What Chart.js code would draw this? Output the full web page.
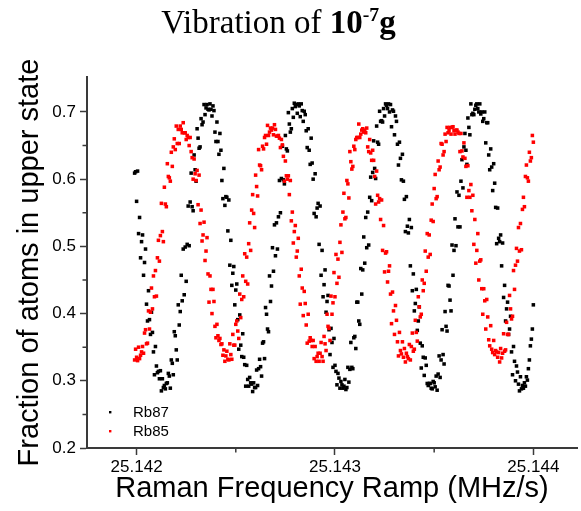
<!DOCTYPE html>
<html>
<head>
<meta charset="utf-8">
<script src="https://cdn.jsdelivr.net/npm/chart.js@4/dist/chart.umd.min.js"></script>
<style>
html,body{margin:0;padding:0;background:#fff;}
#wrap{position:relative;width:581px;height:511px;overflow:hidden;}
#title{position:absolute;left:0;top:3px;width:557px;text-align:center;font-family:"Liberation Serif","Times New Roman",serif;font-size:33px;line-height:38px;color:#000;white-space:nowrap;}
#title sup{font-size:0.6em;line-height:0;vertical-align:0.62em;}
canvas{position:absolute;left:0;top:0;}
</style>
</head>
<body>
<div id="wrap">
<canvas id="c" width="581" height="511"></canvas>
<div id="title">Vibration of <b>10<sup>-7</sup>g</b></div>
</div>
<script>
// Raman frequency ramp (MHz/s), shared by both species
const freq = [
25.141990,25.141995,25.142000,25.142005,25.142010,25.142015,25.142020,25.142025,25.142030,25.142035,25.142040,25.142045,25.142050,25.142055,25.142060,25.142065,25.142070,25.142075,25.142080,25.142085,
25.142090,25.142095,25.142100,25.142105,25.142110,25.142115,25.142120,25.142125,25.142130,25.142135,25.142140,25.142145,25.142150,25.142155,25.142160,25.142165,25.142170,25.142175,25.142180,25.142185,
25.142190,25.142195,25.142200,25.142205,25.142210,25.142215,25.142220,25.142225,25.142230,25.142235,25.142240,25.142245,25.142250,25.142255,25.142260,25.142265,25.142270,25.142275,25.142280,25.142285,
25.142290,25.142295,25.142300,25.142305,25.142310,25.142315,25.142320,25.142325,25.142330,25.142335,25.142340,25.142345,25.142350,25.142355,25.142360,25.142365,25.142370,25.142375,25.142380,25.142385,
25.142390,25.142395,25.142400,25.142405,25.142410,25.142415,25.142420,25.142425,25.142430,25.142435,25.142440,25.142445,25.142450,25.142455,25.142460,25.142465,25.142470,25.142475,25.142480,25.142485,
25.142490,25.142495,25.142500,25.142505,25.142510,25.142515,25.142520,25.142525,25.142530,25.142535,25.142540,25.142545,25.142550,25.142555,25.142560,25.142565,25.142570,25.142575,25.142580,25.142585,
25.142590,25.142595,25.142600,25.142605,25.142610,25.142615,25.142620,25.142625,25.142630,25.142635,25.142640,25.142645,25.142650,25.142655,25.142660,25.142665,25.142670,25.142675,25.142680,25.142685,
25.142690,25.142695,25.142700,25.142705,25.142710,25.142715,25.142720,25.142725,25.142730,25.142735,25.142740,25.142745,25.142750,25.142755,25.142760,25.142765,25.142770,25.142775,25.142780,25.142785,
25.142790,25.142795,25.142800,25.142805,25.142810,25.142815,25.142820,25.142825,25.142830,25.142835,25.142840,25.142845,25.142850,25.142855,25.142860,25.142865,25.142870,25.142875,25.142880,25.142885,
25.142890,25.142895,25.142900,25.142905,25.142910,25.142915,25.142920,25.142925,25.142930,25.142935,25.142940,25.142945,25.142950,25.142955,25.142960,25.142965,25.142970,25.142975,25.142980,25.142985,
25.142990,25.142995,25.143000,25.143005,25.143010,25.143015,25.143020,25.143025,25.143030,25.143035,25.143040,25.143045,25.143050,25.143055,25.143060,25.143065,25.143070,25.143075,25.143080,25.143085,
25.143090,25.143095,25.143100,25.143105,25.143110,25.143115,25.143120,25.143125,25.143130,25.143135,25.143140,25.143145,25.143150,25.143155,25.143160,25.143165,25.143170,25.143175,25.143180,25.143185,
25.143190,25.143195,25.143200,25.143205,25.143210,25.143215,25.143220,25.143225,25.143230,25.143235,25.143240,25.143245,25.143250,25.143255,25.143260,25.143265,25.143270,25.143275,25.143280,25.143285,
25.143290,25.143295,25.143300,25.143305,25.143310,25.143315,25.143320,25.143325,25.143330,25.143335,25.143340,25.143345,25.143350,25.143355,25.143360,25.143365,25.143370,25.143375,25.143380,25.143385,
25.143390,25.143395,25.143400,25.143405,25.143410,25.143415,25.143420,25.143425,25.143430,25.143435,25.143440,25.143445,25.143450,25.143455,25.143460,25.143465,25.143470,25.143475,25.143480,25.143485,
25.143490,25.143495,25.143500,25.143505,25.143510,25.143515,25.143520,25.143525,25.143530,25.143535,25.143540,25.143545,25.143550,25.143555,25.143560,25.143565,25.143570,25.143575,25.143580,25.143585,
25.143590,25.143595,25.143600,25.143605,25.143610,25.143615,25.143620,25.143625,25.143630,25.143635,25.143640,25.143645,25.143650,25.143655,25.143660,25.143665,25.143670,25.143675,25.143680,25.143685,
25.143690,25.143695,25.143700,25.143705,25.143710,25.143715,25.143720,25.143725,25.143730,25.143735,25.143740,25.143745,25.143750,25.143755,25.143760,25.143765,25.143770,25.143775,25.143780,25.143785,
25.143790,25.143795,25.143800,25.143805,25.143810,25.143815,25.143820,25.143825,25.143830,25.143835,25.143840,25.143845,25.143850,25.143855,25.143860,25.143865,25.143870,25.143875,25.143880,25.143885,
25.143890,25.143895,25.143900,25.143905,25.143910,25.143915,25.143920,25.143925,25.143930,25.143935,25.143940,25.143945,25.143950,25.143955,25.143960,25.143965,25.143970,25.143975,25.143980,25.143985,
25.143990,25.143995,25.144000
];

// Fraction of atoms in upper state, Rb87 (black)
const rb87 = [
0.609,0.611,0.567,0.612,0.519,0.543,0.483,0.507,0.517,0.457,0.476,0.496,0.414,0.389,0.434,0.391,0.369,0.402,0.372,0.343,
0.309,0.351,0.322,0.312,0.314,0.303,0.315,0.285,0.303,0.290,0.293,
0.288,0.296,0.297,0.311,0.307,0.289,0.331,0.326,0.309,0.373,0.367,0.346,0.331,0.413,0.383,0.403,0.457,0.419,0.496,0.428,
0.499,0.448,0.503,0.560,0.501,0.566,0.609,0.559,0.553,0.636,0.614,0.597,0.675,0.661,0.646,0.648,0.690,0.681,0.685,0.711,
0.696,0.706,0.711,0.704,
0.703,0.712,0.704,0.694,0.709,0.702,0.670,0.656,0.685,0.656,0.637,0.668,0.643,0.598,0.571,0.616,0.561,0.574,0.573,0.523,
0.569,0.472,0.509,0.442,0.460,0.470,0.413,0.435,0.444,0.391,0.347,0.398,0.353,0.336,0.370,0.335,0.324,0.292,0.323,0.302,
0.292,0.305,0.297,0.295,0.284,
0.297,0.290,0.290,0.316,0.293,0.318,0.332,0.321,0.307,0.356,0.358,0.333,0.409,0.399,0.377,0.373,0.456,0.418,0.441,0.498,
0.463,0.532,0.486,0.535,0.496,0.544,0.598,0.550,0.601,0.649,0.599,0.593,0.665,0.645,0.642,0.699,0.682,0.670,0.675,0.705,
0.692,0.713,0.708,0.711,0.698,
0.712,0.709,0.693,0.712,0.702,0.686,0.701,0.696,0.672,0.647,0.675,0.643,0.622,0.661,0.624,0.600,0.549,0.608,0.544,0.557,
0.564,0.503,0.560,0.457,0.494,0.425,0.443,0.465,0.402,0.418,0.427,0.376,0.339,0.378,0.357,0.320,0.363,0.323,0.314,0.294,
0.311,0.304,0.289,0.299,0.294,0.289,
0.292,0.302,0.287,0.290,0.320,0.298,0.317,0.357,0.320,0.318,0.364,0.366,0.348,0.417,0.417,0.389,0.384,0.467,0.429,0.465,
0.514,0.475,0.543,0.498,0.551,0.502,0.573,0.603,0.568,0.610,0.657,0.616,0.601,0.679,0.655,0.652,0.701,0.686,0.687,0.685,
0.705,0.694,0.712,0.710,
0.705,0.712,0.700,0.711,0.678,0.703,0.701,0.666,0.694,0.686,0.652,0.621,0.655,0.631,0.599,0.637,0.597,0.570,0.522,0.574,
0.530,0.520,0.540,0.471,0.528,0.434,0.459,0.404,0.415,0.436,0.375,0.389,0.410,0.356,0.319,0.352,0.335,0.308,0.334,0.323,
0.296,0.293,0.296,0.296,0.289,0.288,
0.299,0.297,0.291,0.307,0.286,0.310,0.337,0.305,0.331,0.376,0.339,0.325,0.403,0.381,0.374,0.442,0.441,0.420,0.404,0.502,
0.457,0.494,0.541,0.501,0.581,0.529,0.576,0.529,0.597,0.629,0.587,0.648,0.668,0.643,0.622,0.691,0.677,0.666,0.712,0.696,
0.698,0.696,0.704,0.710,0.712,
0.705,0.700,0.712,0.697,0.700,0.686,0.690,0.700,0.654,0.684,0.684,0.636,0.614,0.645,0.618,0.583,0.623,0.594,0.558,0.504,
0.557,0.512,0.507,0.517,0.471,0.505,0.424,0.442,0.389,0.407,0.417,0.369,0.377,0.396,0.343,0.309,0.351,0.329,0.300,0.322,
0.313,0.295,0.285,0.306,0.288,0.293,
0.289,0.297,0.292,0.306,0.301,0.318,0.331,0.352,0.362,0.377,0.413
];

// Fraction of atoms in upper state, Rb85 (red)
const rb85 = [
0.331,0.347,0.335,0.330,0.350,0.333,0.338,0.343,0.351,0.341,0.371,0.376,0.355,0.356,0.404,0.377,0.402,0.438,0.407,0.456,
0.425,0.464,0.426,0.483,0.509,0.478,0.516,0.564,0.522,0.507,0.588,0.563,0.559,0.623,0.604,0.602,0.597,0.640,0.619,0.648,
0.660,0.644,0.679,0.653,0.674,0.653,0.679,0.674,0.669,0.684,
0.669,0.669,0.659,0.665,0.662,0.650,0.662,0.641,0.632,0.600,0.630,0.608,0.598,0.613,0.562,0.606,0.534,0.554,0.508,0.517,
0.536,0.479,0.493,0.513,0.459,0.417,0.456,0.436,0.400,0.436,0.418,0.381,0.364,0.384,0.367,0.360,0.363,0.354,0.355,0.338,
0.346,0.329,0.337,0.344,
0.332,0.331,0.355,0.339,0.332,0.369,0.353,0.353,0.384,0.389,0.374,0.363,0.429,0.394,0.421,0.456,0.425,0.489,0.448,0.484,
0.444,0.504,0.535,0.494,0.554,0.577,0.549,0.528,0.606,0.589,0.575,0.644,0.621,0.620,0.614,0.649,0.645,0.662,0.665,0.652,
0.680,0.665,0.670,0.676,0.673,0.676,
0.666,0.681,0.674,0.664,0.664,0.665,0.661,0.647,0.659,0.651,0.634,0.597,0.627,0.605,0.600,0.605,0.577,0.598,0.538,0.551,
0.505,0.522,0.531,0.484,0.493,0.512,0.456,0.414,0.466,0.438,0.397,0.433,0.415,0.383,0.356,0.399,0.359,0.364,0.360,0.351,
0.360,0.333,0.351,0.329,0.336,0.341,
0.329,0.341,0.357,0.336,0.329,0.366,0.355,0.345,0.399,0.381,0.378,0.360,0.426,0.399,0.416,0.461,0.425,0.488,0.445,0.481,
0.454,0.506,0.532,0.491,0.551,0.579,0.541,0.543,0.598,0.593,0.572,0.641,0.626,0.615,0.619,0.649,0.644,0.659,0.662,0.662,
0.682,0.662,0.667,0.673,
0.675,0.670,0.673,0.669,0.676,0.648,0.641,0.659,0.639,0.628,0.643,0.628,0.604,0.563,0.612,0.576,0.566,0.571,0.540,0.569,
0.494,0.531,0.462,0.490,0.492,0.447,0.463,0.471,0.429,0.385,0.432,0.404,0.369,0.412,0.390,0.358,0.337,0.372,0.345,0.340,
0.358,0.335,0.348,0.328,0.341,
0.336,0.333,0.354,0.331,0.351,0.371,0.344,0.347,0.390,0.372,0.359,0.425,0.410,0.395,0.399,0.450,0.434,0.445,0.493,0.463,
0.519,0.484,0.517,0.488,0.539,0.563,0.537,0.586,0.607,0.571,0.574,0.627,0.614,0.618,0.653,0.652,0.636,0.641,0.667,0.656,
0.677,0.669,0.672,0.677,0.667,0.677,
0.678,0.672,0.667,0.673,0.673,0.670,0.668,0.641,0.668,0.642,0.633,0.654,0.631,0.619,0.573,0.620,0.583,0.573,0.592,0.553,
0.576,0.503,0.540,0.475,0.494,0.519,0.450,0.478,0.480,0.437,0.399,0.437,0.419,0.377,0.421,0.395,0.361,0.352,0.382,0.347,
0.342,0.360,0.339,0.345,0.343,0.335,0.342,
0.328,0.348,0.334,0.341,0.370,0.344,0.346,0.387,0.369,0.369,0.427,0.407,0.392,0.396,0.464,0.436,0.472,0.497,0.478,0.528,
0.493,0.534,0.495,0.555,0.573,0.559,0.604,0.621,0.602,0.597,0.640,0.627,0.632,0.665,0.655
];

const seriesNames = ['Rb87', 'Rb85'];
const xTicks = [25.142, 25.143, 25.144];
const xMinorTicks = [25.1425, 25.1435];
const yTicks = [0.2, 0.3, 0.4, 0.5, 0.6, 0.7];
const yMinorTicks = [0.25, 0.35, 0.45, 0.55, 0.65];

const AXIS = '#3a3a3a';
const toPoints = ys => ys.map((v, i) => ({x: freq[i], y: v})).filter(p => p.x !== undefined);

const minorTicks = {
  id: 'minorTicks',
  afterDraw(chart) {
    const {ctx, chartArea: a, scales: {x, y}} = chart;
    ctx.save();
    ctx.strokeStyle = AXIS;
    ctx.lineWidth = 1.5;
    ctx.beginPath();
    xMinorTicks.forEach(v => {
      const px = x.getPixelForValue(v);
      ctx.moveTo(px, a.bottom); ctx.lineTo(px, a.bottom + 4.5);
    });
    yMinorTicks.forEach(v => {
      const py = y.getPixelForValue(v);
      ctx.moveTo(a.left, py); ctx.lineTo(a.left - 4.5, py);
    });
    ctx.stroke();
    ctx.restore();
  }
};

const insideLegend = {
  id: 'insideLegend',
  afterDraw(chart) {
    const {ctx, chartArea: a} = chart;
    ctx.save();
    ctx.font = '15px "Liberation Sans", Arial, sans-serif';
    ctx.textBaseline = 'alphabetic';
    ctx.textAlign = 'left';
    chart.data.datasets.forEach((ds, k) => {
      const baseY = a.bottom - 31 + k * 19;
      ctx.fillStyle = ds.backgroundColor;
      ctx.fillRect(a.left + 22, baseY - 6, 2.4, 2.4);
      ctx.fillStyle = '#000';
      ctx.fillText(ds.label, a.left + 46, baseY);
    });
    ctx.restore();
  }
};

const tickFont = {family: '"Liberation Sans", Arial, sans-serif', size: 17};
const titleFont = {family: '"Liberation Sans", Arial, sans-serif', size: 29};

new Chart(document.getElementById('c'), {
  type: 'scatter',
  data: {
    datasets: [
      {label: seriesNames[0], data: toPoints(rb87), backgroundColor: '#000000', borderColor: '#000000',
       pointStyle: 'rect', pointRadius: 2.5, borderWidth: 0, order: 1},
      {label: seriesNames[1], data: toPoints(rb85), backgroundColor: '#ff0000', borderColor: '#ff0000',
       pointStyle: 'rect', pointRadius: 2.5, borderWidth: 0, order: 0}
    ]
  },
  options: {
    responsive: false,
    animation: false,
    devicePixelRatio: 1,
    layout: {padding: {top: 77, left: 0, right: 0, bottom: 0}},
    plugins: {legend: {display: false}, title: {display: false}, tooltip: {enabled: false}},
    scales: {
      x: {
        type: 'linear', min: 25.14175, max: 25.14422,
        afterBuildTicks: s => { s.ticks = xTicks.map(v => ({value: v})); },
        afterFit: s => { s.height = 63; },
        grid: {drawOnChartArea: false, drawTicks: true, tickLength: 7, tickWidth: 1.5, tickColor: AXIS, color: AXIS},
        border: {display: true, color: AXIS, width: 2},
        ticks: {font: tickFont, color: '#000', padding: 2, maxRotation: 0, autoSkip: false,
                callback: v => Number(v).toFixed(3)},
        title: {display: true, text: 'Raman Frequency Ramp (MHz/s)', font: titleFont, color: '#000',
                padding: {top: 0, bottom: 5}}
      },
      y: {
        type: 'linear', min: 0.2, max: 0.752,
        afterBuildTicks: s => { s.ticks = yTicks.map(v => ({value: v})); },
        afterFit: s => { s.width = 87; },
        grid: {drawOnChartArea: false, drawTicks: true, tickLength: 7, tickWidth: 1.5, tickColor: AXIS, color: AXIS},
        border: {display: true, color: AXIS, width: 2},
        ticks: {font: tickFont, color: '#000', padding: 4, callback: v => Number(v).toFixed(1)},
        title: {display: true, text: 'Fraction of atoms in upper state', font: titleFont, color: '#000',
                padding: {top: 13, bottom: 0}}
      }
    }
  },
  plugins: [minorTicks, insideLegend]
});
</script>
</body>
</html>
